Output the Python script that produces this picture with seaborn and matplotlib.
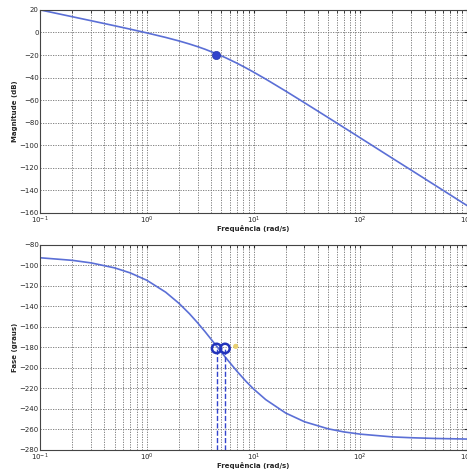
import numpy as np
import pandas as pd
import matplotlib
matplotlib.use("Agg")
import matplotlib.pyplot as plt
import seaborn as sns

# frequencias (rad/s)
freq = [0.1, 0.2, 0.3, 0.5, 0.7, 1, 1.5, 2, 2.5, 3, 3.5, 4.6, 5.5, 7, 8.5,
        10, 13, 20, 30, 50, 70, 100, 200, 300, 500, 1000]
# magnitude (dB)
mag = [20.0, 13.96, 10.42, 5.92, 2.90, -0.4, -4.40, -7.52, -10.21, -12.62,
       -14.85, -19.28, -22.52, -27.31, -31.49, -35.16, -41.35, -52.0, -62.32,
       -75.5, -84.23, -93.5, -111.6, -122.1, -135.4, -153.5]
# fase (graus)
fase = [-92.5, -95.0, -97.5, -102.4, -107.3, -114.5, -126.1, -137.0, -147.0,
        -156.2, -164.5, -180.0, -190.2, -203.4, -213.2, -220.6, -231.0, -244.1,
        -252.6, -259.5, -262.5, -264.7, -267.4, -268.2, -268.9, -269.5]

# marcadores
mag_pt_w = [4.4]
mag_pt_db = [-19.8]
fase_pt_w = [4.5, 5.4]
fase_pt_deg = [-181, -181]
amarelo_w = [6.8]
amarelo_deg = [-179]

sns.set_style("white")
plt.rcParams["font.family"] = ["DejaVu Sans"]

df = pd.DataFrame({"w": freq, "mag": mag, "fase": fase})

fig = plt.figure(figsize=(4.67, 4.72), dpi=100)
ax1 = fig.add_axes([0.086, 0.549, 0.914, 0.43])
ax2 = fig.add_axes([0.086, 0.047, 0.914, 0.434])

cor = "#5b6fd6"
grid_kw = dict(color="#707070", linestyle=(0, (1.5, 1.5)), linewidth=0.6)

for ax, col, ylim, ylab in [(ax1, "mag", (-160, 20), "Magnitude (dB)"),
                            (ax2, "fase", (-280, -80), "Fase (graus)")]:
    sns.lineplot(data=df, x="w", y=col, ax=ax, color=cor, linewidth=1.2)
    ax.set_xscale("log")
    ax.set_xlim(0.1, 1000)
    ax.set_ylim(*ylim)
    ax.set_yticks(np.arange(ylim[0], ylim[1] + 1, 20))
    ax.grid(True, which="major", **grid_kw)
    ax.grid(True, which="minor", axis="x", **grid_kw)
    ax.tick_params(labelsize=5, length=2, direction="in", which="both",
                   pad=1, top=True, right=True)
    ax.set_ylabel(ylab, fontsize=5, fontweight="bold", labelpad=1)
    ax.set_xlabel("Frequência (rad/s)", fontsize=5, fontweight="bold",
                  labelpad=-0.5)
    for s in ax.spines.values():
        s.set_color("#444444")
        s.set_linewidth(0.8)

sns.scatterplot(x=mag_pt_w, y=mag_pt_db, ax=ax1, s=35, color="#3344cc",
                edgecolor="#2233aa", zorder=5)

# linhas tracejadas verticais
for w in fase_pt_w:
    ax2.plot([w, w], [-280, -181], color="#3344cc", linestyle="--",
             linewidth=1.0)
sns.scatterplot(x=fase_pt_w, y=fase_pt_deg, ax=ax2, s=45, facecolor="none",
                edgecolor="#2233bb", linewidth=1.8, zorder=5)
sns.scatterplot(x=amarelo_w, y=amarelo_deg, ax=ax2, s=14, color="#e8d070",
                edgecolor="none", zorder=5)

fig.savefig("out.png", dpi=100)
